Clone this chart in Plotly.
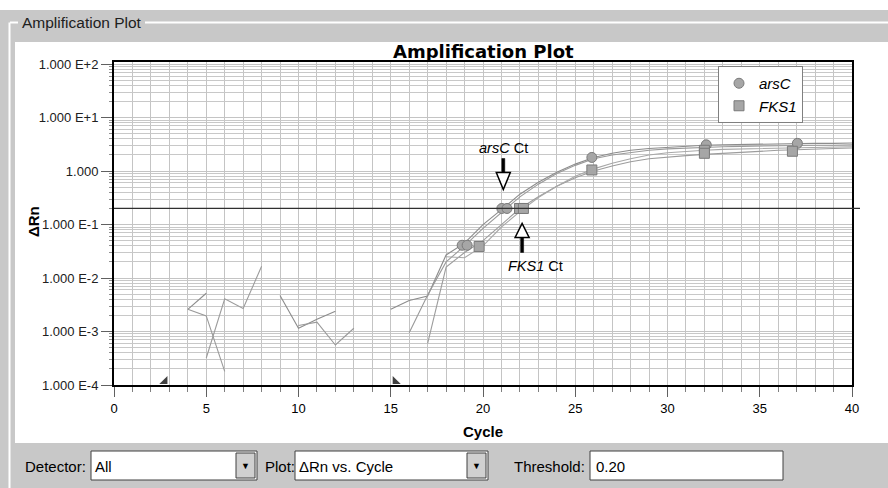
import numpy as np
import plotly.graph_objects as go

N = None
cycles = list(range(1, 41))

# Delta Rn per cycle for two arsC wells and two FKS1 wells (None = not shown on log scale)
arsC_a = [N, N, N, 0.0026, 0.0052, N, N, N, 0.0047, 0.00115, 0.0017, 0.0024, N, N, 0.0026, 0.0038, 0.0046,
          0.027, 0.045, 0.10, 0.19, 0.37, 0.62, 0.95, 1.35, 1.8, 2.15, 2.45, 2.65, 2.8, 2.95, 3.05, 3.1, 3.15,
          3.2, 3.2, 3.25, 3.3, 3.3, 3.35]
arsC_b = [N, N, N, 0.0026, 0.00196, 0.00018, N, N, N, 0.0013, 0.0015, 0.00056, 0.00115, N, N, 0.00095, 0.0048,
          0.02, 0.04, 0.085, 0.165, 0.33, 0.57, 0.9, 1.28, 1.7, 2.0, 2.25, 2.45, 2.6, 2.7, 2.8, 2.85, 2.9,
          2.95, 3.0, 3.0, 3.05, 3.05, 3.1]
FKS1_a = [N, N, N, N, 0.00032, 0.0041, 0.0027, 0.0166, N, N, N, N, N, N, N, N, 0.0006,
          0.016, 0.03, 0.05, 0.1, 0.2, 0.33, 0.52, 0.75, 1.0, 1.25, 1.5, 1.7, 1.85, 1.95, 2.05, 2.15, 2.25,
          2.35, 2.45, 2.5, 2.6, 2.65, 2.7]
FKS1_b = [N] * 17 + [0.025, 0.024, 0.04, 0.09, 0.175, 0.32, 0.52, 0.8, 1.1, 1.4, 1.7, 2.0, 2.2, 2.35,
                     2.45, 2.55, 2.6, 2.65, 2.7, 2.75, 2.8, 2.8, 2.85]

# plotted marker points
arsC_mx = [18.87, 19.14, 21.02, 21.3, 25.9, 32.1, 37.04]
arsC_my = [0.041, 0.041, 0.2, 0.2, 1.8, 3.1, 3.3]
FKS1_mx = [19.79, 21.98, 22.19, 25.9, 32.0, 32.0, 36.77]
FKS1_my = [0.039, 0.2, 0.2, 1.05, 2.45, 2.15, 2.35]

threshold = 0.20
ct_arsC = 21.1
ct_FKS1 = 22.12
baseline_start = 3
baseline_end = 15

x_ticks = [0, 5, 10, 15, 20, 25, 30, 35, 40]
y_ticks = [1e-4, 1e-3, 1e-2, 1e-1, 1, 10, 100]
y_ticktext = ["1.000 E-4", "1.000 E-3", "1.000 E-2", "1.000 E-1", "1.000", "1.000 E+1", "1.000 E+2"]

FONT = "Liberation Sans, Arial, sans-serif"
TITLE_FONT = "DejaVu Sans, Verdana, sans-serif"
W, H = 888, 488
L, R, T, B = 114, 36, 62, 103
PW, PH = W - L - R, H - T - B


def PX(p):
    return (p - L) / PW


def PY(p):
    return (H - B - p) / PH


fig = go.Figure()

for ys, col in [(arsC_a, "#8c8c8c"), (arsC_b, "#9a9a9a"), (FKS1_a, "#9c9c9c"), (FKS1_b, "#a8a8a8")]:
    fig.add_trace(go.Scatter(x=cycles, y=ys, mode="lines", line=dict(color=col, width=1.1),
                             connectgaps=False, showlegend=False, hoverinfo="skip"))

fig.add_trace(go.Scatter(x=arsC_mx, y=arsC_my, mode="markers", name="<i>arsC</i>",
                         marker=dict(symbol="circle", size=10, color="#a6a6a6",
                                     line=dict(color="#7a7a7a", width=1))))
fig.add_trace(go.Scatter(x=FKS1_mx, y=FKS1_my, mode="markers", name="<i>FKS1</i>",
                         marker=dict(symbol="square", size=10, color="#a6a6a6",
                                     line=dict(color="#7a7a7a", width=1))))

# baseline markers
fig.add_trace(go.Scatter(x=[baseline_start - 0.25], y=[1.17e-4], mode="markers", showlegend=False,
                         cliponaxis=False, hoverinfo="skip",
                         marker=dict(symbol="triangle-se", size=9, color="#404040")))
fig.add_trace(go.Scatter(x=[baseline_end + 0.25], y=[1.17e-4], mode="markers", showlegend=False,
                         cliponaxis=False, hoverinfo="skip",
                         marker=dict(symbol="triangle-sw", size=9, color="#404040")))

shapes = []
GRAY = "#c8c8c8"
# window chrome
shapes.append(dict(type="rect", xref="paper", yref="paper", x0=PX(0), x1=PX(W), y0=PY(10), y1=PY(42),
                   fillcolor=GRAY, line=dict(width=0), layer="below"))
shapes.append(dict(type="rect", xref="paper", yref="paper", x0=PX(0), x1=PX(15), y0=PY(10), y1=PY(H),
                   fillcolor=GRAY, line=dict(width=0), layer="below"))
shapes.append(dict(type="rect", xref="paper", yref="paper", x0=PX(0), x1=PX(W), y0=PY(443), y1=PY(H),
                   fillcolor=GRAY, line=dict(width=0), layer="below"))
# group box frame (white lines)
shapes.append(dict(type="line", xref="paper", yref="paper", x0=PX(10), x1=PX(18), y0=PY(22.5), y1=PY(22.5),
                   line=dict(color="white", width=2), layer="below"))
shapes.append(dict(type="line", xref="paper", yref="paper", x0=PX(145), x1=PX(W), y0=PY(22.5), y1=PY(22.5),
                   line=dict(color="white", width=2), layer="below"))
shapes.append(dict(type="line", xref="paper", yref="paper", x0=PX(9.5), x1=PX(9.5), y0=PY(22.5), y1=PY(H),
                   line=dict(color="white", width=2), layer="below"))

# threshold line
shapes.append(dict(type="line", xref="paper", yref="y", x0=0, x1=PX(860), y0=threshold, y1=threshold,
                   line=dict(color="#303030", width=1.3)))

# Ct arrows (pixel offsets from the Ct point)
for ct, up in [(ct_arsC, True), (ct_FKS1, False)]:
    s = 1 if up else -1
    tip, base, top = (19, 36, 50) if up else (15, 29, 44)
    shapes.append(dict(type="path", xref="x", yref="y", xsizemode="pixel", ysizemode="pixel",
                       xanchor=ct, yanchor=threshold,
                       path=f"M -1.5,{s * (base - 1)} L 1.5,{s * (base - 1)} L 1.5,{s * top} L -1.5,{s * top} Z",
                       fillcolor="black", line=dict(color="black", width=0.5)))
    shapes.append(dict(type="path", xref="x", yref="y", xsizemode="pixel", ysizemode="pixel",
                       xanchor=ct, yanchor=threshold,
                       path=f"M -7,{s * base} L 7,{s * base} L 0,{s * tip} Z",
                       fillcolor="white", line=dict(color="black", width=1.5)))


# control widgets
def box(x0, x1, y0, y1, fill="white"):
    shapes.append(dict(type="rect", xref="paper", yref="paper", x0=PX(x0), x1=PX(x1), y0=PY(y0), y1=PY(y1),
                       fillcolor=fill, line=dict(color="#404040", width=1)))


box(91, 257, 451, 480)
box(236, 255, 453, 478, fill="#d0d0d0")
box(295, 488, 451, 480)
box(467, 486, 453, 478, fill="#d0d0d0")
box(590, 783, 451, 480)


def ann(text, x, y, size, xanchor="center", color="black", family=FONT, **kw):
    d = dict(text=text, xref="paper", yref="paper", x=x, y=y, xanchor=xanchor, yanchor="middle",
             showarrow=False, font=dict(size=size, color=color, family=family))
    d.update(kw)
    return d


annotations = [
    ann("<b>Amplification Plot</b>", 0.5, PY(51), 18, family=TITLE_FONT),
    ann("Amplification Plot", PX(20), PY(23), 15.5, "left", "#202020", bgcolor=GRAY),
    ann("<b>Cycle</b>", 0.5, PY(432), 15),
    ann("<b>ΔRn</b>", PX(34), PY(222), 15, textangle=-90),
    dict(text="<i>arsC</i> Ct", xref="x", yref="y", x=ct_arsC, y=np.log10(threshold), yshift=60,
         xanchor="center", yanchor="middle", showarrow=False, font=dict(size=14.5, color="black", family=FONT)),
    dict(text="<i>FKS1</i> Ct", xref="x", yref="y", x=ct_FKS1 + 0.75, y=np.log10(threshold), yshift=-58,
         xanchor="center", yanchor="middle", showarrow=False, font=dict(size=14.5, color="black", family=FONT)),
    ann("Detector:", PX(23), PY(466), 15, "left"),
    ann("All", PX(93), PY(466), 15, "left"),
    ann("Plot:", PX(263), PY(466), 15, "left"),
    ann("ΔRn vs. Cycle", PX(297), PY(466), 15, "left"),
    ann("Threshold:", PX(512), PY(466), 15, "left"),
    ann("0.20", PX(594), PY(466), 15, "left"),
    ann("▼", PX(245.5), PY(466), 9),
    ann("▼", PX(476.5), PY(466), 9),
]

minor_y = [m * 10.0 ** e for e in range(-4, 2) for m in range(2, 10)]

fig.update_layout(
    width=W, height=H,
    margin=dict(l=L, r=R, t=T, b=B),
    paper_bgcolor="white", plot_bgcolor="white",
    font=dict(family=FONT, size=12, color="#202020"),
    shapes=shapes, annotations=annotations,
    legend=dict(x=PX(718), y=PY(66), xanchor="left", yanchor="top", bgcolor="white",
                bordercolor="#808080", borderwidth=1, font=dict(size=15, color="black", family=FONT),
                itemwidth=30, tracegroupgap=0),
    xaxis=dict(range=[0, 40], tickvals=x_ticks, ticks="outside", ticklen=10, tickcolor="#606060",
               showgrid=True, gridcolor="#c4c4c4", gridwidth=1,
               minor=dict(dtick=1, tick0=0, ticks="outside", ticklen=5, tickcolor="#808080",
                          showgrid=True, gridcolor="#c4c4c4"),
               showline=True, linecolor="black", linewidth=2, mirror=True, zeroline=False,
               tickfont=dict(size=13, color="black")),
    yaxis=dict(type="log", range=[-4, 2.04], tickvals=y_ticks, ticktext=y_ticktext, ticks="outside",
               ticklen=11, tickcolor="#606060", showgrid=True, gridcolor="#c4c4c4",
               minor=dict(tickvals=minor_y, ticks="outside", ticklen=3, tickcolor="#909090",
                          showgrid=True, gridcolor="#c8c8c8"),
               showline=True, linecolor="black", linewidth=2, mirror=True, zeroline=False,
               tickfont=dict(size=13, color="#202020")),
)

fig.write_html("out.html", config={"displayModeBar": False},
               post_script="document.body.style.margin='0';")
